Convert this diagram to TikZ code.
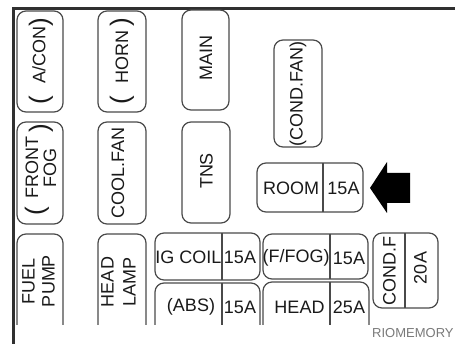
\documentclass[tikz,border=0pt]{standalone}
\usepackage{fontspec}
\setmainfont{Liberation Sans}
\definecolor{boxgray}{HTML}{4A4A4A}
\definecolor{txt}{HTML}{1A1A1A}
\definecolor{framec}{HTML}{303030}
\definecolor{wmark}{HTML}{7A7A7A}
\tikzset{
  fuse/.style={draw=boxgray, line width=1.2pt, rounded corners=9pt},
  divline/.style={draw=boxgray, line width=1.1pt},
  framel/.style={draw=framec, line width=2.5pt},
  lbl/.style={text=txt, inner sep=0pt, font=\fontsize{18}{18}\selectfont},
  vlbl/.style={lbl, rotate=90},
  bigpar/.style={text=txt, inner sep=0pt, rotate=90, font=\fontsize{26}{26}\selectfont},
}
\begin{document}
\begin{tikzpicture}[x=1pt,y=-1pt]
\useasboundingbox (0,0) rectangle (455,344);
\fill[white] (0,0) rectangle (455,344);
% frame
\draw[framel] (13.5,344) -- (13.5,8.7) -- (455,8.7);

% top row
\draw[fuse] (17,11) rectangle (63,112);
\node[vlbl] (tacon) at (39,55) {A/CON};
\node[bigpar] (pacona) at (41,100) {(};
\node[bigpar] (paconb) at (41,22) {)};

\draw[fuse] (98,11) rectangle (146,112);
\node[vlbl] (thorn) at (122,57) {HORN};
\node[bigpar] (phorna) at (122,100) {(};
\node[bigpar] (phornb) at (122,22) {)};

\draw[fuse] (182,10) rectangle (229,110);
\node[vlbl] (tmain) at (206,58) {MAIN};

\draw[fuse] (274,40) rectangle (322,147);
\node[vlbl] (tcfan) at (298,94) {(COND.FAN)};

% second row
\draw[fuse] (17,122) rectangle (63,224);
\node[vlbl, align=center] (tfront) at (41,168) {FRONT\\FOG};
\node[bigpar] (pfronta) at (37,211) {(};
\node[bigpar] (pfrontb) at (41,128) {)};

\draw[fuse] (98,122) rectangle (146,224);
\node[vlbl] (tcool) at (118,173) {COOL.FAN};

\draw[fuse] (182,122) rectangle (230,223);
\node[vlbl] (ttns) at (206.5,171) {TNS};

% ROOM
\draw[fuse] (257,163) rectangle (363,212);
\draw[divline] (323,163) -- (323,212);
\node[lbl] (troom) at (291,188) {ROOM};
\node[lbl] (troomA) at (343.5,188) {15A};

% arrow
\fill[black] (370,188) -- (387,162) -- (387,173) -- (410,173) -- (410,203) -- (387,203) -- (387,213) -- cycle;

% bottom row
\draw[fuse] (17,325) -- (17,234) -- (63,234) -- (63,325);
\node[vlbl, align=center, font=\fontsize{18}{20}\selectfont] (tfuel) at (38.5,281) {FUEL\\PUMP};

\draw[fuse] (98,325) -- (98,234) -- (146,234) -- (146,325);
\node[vlbl, align=center, font=\fontsize{18}{22}\selectfont] (thead) at (118.5,282) {HEAD\\LAMP};

\draw[fuse] (155,233) rectangle (260,280);
\draw[divline] (222,233) -- (222,280);
\node[lbl] (tig) at (188.5,257) {IG COIL};
\node[lbl] (tigA) at (240,257) {15A};

\draw[fuse] (155,325) -- (155,283) -- (260,283) -- (260,325);
\draw[divline] (222,283) -- (222,325);
\node[lbl] (tabs) at (191,307) {(ABS)};
\node[lbl] (tabsA) at (240,307) {15A};

\draw[fuse] (263,234) rectangle (368,279);
\draw[divline] (330,234) -- (330,279);
\node[lbl] (tffog) at (296,258) {(F/FOG)};
\node[lbl] (tffogA) at (349,258) {15A};

\draw[fuse] (263,325) -- (263,282) -- (369,282) -- (369,325);
\draw[divline] (330,282) -- (330,325);
\node[lbl] (thd) at (299.5,307) {HEAD};
\node[lbl] (thdA) at (349,307) {25A};

\draw[fuse] (373,233) rectangle (438,308);
\draw[divline] (405,233) -- (405,308);
\node[vlbl] (tcf) at (389.5,271) {COND.F};
\node[vlbl] (tcfA) at (420.5,268) {20A};

\node[anchor=west, inner sep=0pt, text=wmark, font=\fontsize{13}{13}\selectfont] (wm) at (372,333) {RIOMEMORY};
\end{tikzpicture}
\end{document}
